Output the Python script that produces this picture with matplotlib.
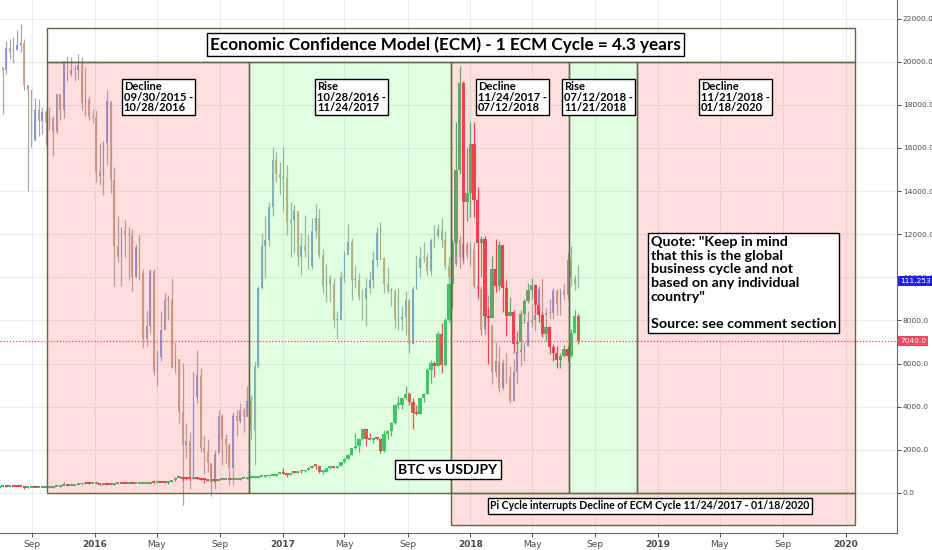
import matplotlib
matplotlib.use("Agg")
import matplotlib.pyplot as plt
import matplotlib.dates as mdates
import matplotlib.transforms as mtransforms
from matplotlib.patches import Rectangle
import pandas as pd
import numpy as np

# weekly bars, week starting Monday 2015-06-29
first_week = "2015-06-29"

btc_close = [
    271, 310, 275, 292, 281, 265, 258, 228, 229, 240, 230, 231, 232, 238, 247, 262, 285, 325, 373, 320,
    323, 371, 395, 435, 442, 422, 431,
    448, 387, 402, 378, 376, 407, 438, 433, 405, 414, 411, 416, 420, 422, 428, 460, 448, 458, 455, 444,
    526, 586, 685, 764, 660, 658, 649, 675, 655, 625, 592, 570, 581, 572, 606, 609, 609, 605, 612, 617,
    641, 657, 698, 703, 705, 730, 733, 765, 780, 790, 891, 911,
    903, 825, 925, 915, 1027, 999, 1057, 1180, 1267, 1237, 965, 966, 1145, 1194, 1181, 1250, 1420, 1590,
    1780, 2080, 2190, 2520, 2960, 2520, 2480, 2560, 2510, 1930, 2750, 2870, 3230, 4070, 4090, 4390, 4580,
    4230, 3690, 3680, 4400, 4600, 5700, 6010, 5900, 7380, 5950, 8040, 9700, 11600, 15000, 19000, 13500,
    13900,
    16200, 13600, 11600, 11800, 8200, 8100, 10400, 9600, 11500, 9500, 8200, 8400, 6900, 7000, 8300, 8900,
    9400, 9650, 8700, 8250, 7350, 7700, 6750, 6500, 6150, 6350, 6700, 6350, 7400, 8200, 7040,
]
btc_high = [
    275, 315, 312, 300, 298, 285, 270, 262, 235, 242, 245, 235, 236, 240, 248, 265, 287, 335, 495, 390,
    338, 375, 400, 465, 470, 465, 440,
    462, 450, 410, 405, 390, 408, 445, 440, 440, 420, 420, 420, 425, 425, 430, 465, 470, 465, 462, 458,
    530, 590, 720, 780, 760, 705, 680, 680, 680, 660, 625, 600, 585, 585, 610, 625, 612, 612, 615, 620,
    645, 660, 705, 740, 720, 750, 745, 770, 785, 795, 900, 980,
    1150, 910, 930, 925, 1030, 1060, 1065, 1200, 1290, 1330, 1250, 1080, 1150, 1200, 1200, 1260, 1440, 1620,
    1820, 2100, 2760, 2540, 2980, 3000, 2800, 2600, 2650, 2550, 2900, 2900, 3300, 4150, 4500, 4400, 4980,
    4700, 4400, 4100, 4450, 4620, 5800, 6150, 6100, 7500, 7900, 8100, 9750, 11800, 17200, 19800, 19100,
    16000,
    17200, 17200, 14200, 11900, 11900, 8600, 11000, 11800, 11700, 11500, 9900, 9100, 8500, 7500, 8500, 9000,
    9750, 9950, 9700, 8750, 8400, 7750, 7750, 6900, 6800, 6500, 6850, 6800, 7600, 8500, 8280,
]
btc_low = [
    250, 263, 270, 272, 278, 260, 255, 200, 200, 225, 228, 225, 226, 234, 236, 245, 262, 283, 320, 305,
    315, 320, 350, 390, 420, 415, 415,
    420, 370, 365, 370, 365, 370, 405, 405, 400, 395, 405, 408, 410, 415, 420, 428, 440, 442, 445, 435,
    440, 525, 570, 680, 550, 620, 600, 640, 650, 600, 480, 570, 565, 565, 570, 600, 600, 595, 600, 605,
    615, 635, 655, 680, 700, 705, 728, 730, 760, 775, 790, 890,
    880, 750, 830, 880, 910, 940, 990, 1050, 1170, 1100, 950, 890, 960, 1120, 1160, 1180, 1245, 1400,
    1580, 1750, 2050, 1900, 2480, 2200, 2450, 2300, 2480, 1850, 1900, 2500, 2650, 3200, 3900, 3900, 4300,
    4100, 2980, 3600, 3650, 4200, 4600, 5100, 5400, 5900, 5550, 5900, 7950, 8600, 11000, 14800, 10800,
    12600,
    12800, 12800, 9100, 10000, 7800, 6000, 8100, 9300, 9400, 8400, 7300, 8200, 6500, 6600, 6700, 7900,
    8800, 9000, 8350, 7950, 7250, 7050, 6450, 6100, 5800, 5800, 6300, 6100, 6300, 7400, 6900,
]
btc_first_open = 250

jpy_close = [
    123.0, 122.8, 124.0, 123.8, 123.9, 124.2, 124.3, 122.0, 121.7, 119.0, 120.6, 120.0, 120.5, 119.9,
    120.2, 119.4, 121.5, 120.6, 123.2, 122.6, 122.8, 122.8, 123.1, 121.0, 121.2, 120.3, 120.2,
    117.2, 117.0, 118.8, 121.1, 116.8, 113.2, 112.6, 114.0, 113.8, 113.8, 111.5, 113.1, 111.7, 108.1,
    108.8, 111.8, 106.3, 107.1, 108.6, 110.2, 110.3, 106.5, 107.0, 104.1, 102.3, 102.5, 100.5, 104.9,
    106.1, 102.1, 101.9, 101.3, 100.2, 101.8, 103.9, 102.6, 102.3, 101.0, 103.9, 103.6, 104.2, 103.8,
    104.7, 103.1, 106.6, 110.9, 113.2, 113.5, 115.3, 117.9, 117.1, 116.9,
    116.9, 114.5, 114.6, 115.1, 112.6, 113.2, 112.9, 112.1, 114.0, 114.7, 112.7, 111.0, 111.4, 111.1,
    109.1, 109.1, 111.5, 112.7, 113.4, 111.3, 111.3, 110.4, 110.3, 110.9, 111.3, 112.4, 113.9, 112.5,
    111.1, 110.7, 110.7, 109.2, 109.2, 109.3, 110.2, 107.8, 110.8, 112.0, 112.5, 112.6, 111.8, 113.5,
    113.7, 114.1, 113.5, 112.1, 111.5, 112.2, 113.5, 112.6, 113.3, 112.7,
    113.0, 111.0, 110.8, 108.6, 110.2, 108.8, 106.3, 106.9, 105.4, 106.8, 106.0, 104.7, 106.3, 107.4,
    107.4, 107.7, 109.0, 109.1, 109.4, 110.8, 109.4, 109.5, 109.5, 110.7, 110.0, 110.7, 110.5, 112.4,
    111.4, 111.05, 111.253,
]
jpy_high = [
    123.7, 123.0, 124.4, 124.5, 124.6, 125.0, 125.3, 124.5, 122.0, 121.7, 121.3, 121.2, 120.8, 120.6,
    120.8, 120.3, 121.5, 121.5, 123.3, 123.6, 123.5, 123.1, 123.7, 123.5, 123.0, 121.4, 120.7,
    120.6, 118.8, 118.9, 121.7, 121.1, 117.5, 114.8, 114.2, 114.6, 114.2, 114.1, 113.3, 113.8, 111.9,
    109.7, 111.9, 111.9, 107.5, 109.6, 110.6, 110.5, 111.4, 107.9, 107.0, 106.8, 103.5, 103.0, 106.3,
    107.5, 106.5, 102.8, 102.6, 101.3, 102.0, 104.2, 104.0, 102.9, 102.4, 104.1, 104.2, 104.6, 104.3,
    105.5, 105.0, 106.9, 111.0, 113.9, 114.8, 115.6, 118.6, 118.3, 117.8,
    118.6, 117.6, 115.6, 115.4, 115.0, 113.9, 114.9, 113.8, 114.7, 115.5, 115.2, 113.0, 112.2, 111.6,
    111.4, 109.6, 111.8, 112.9, 114.4, 113.6, 112.1, 111.7, 110.8, 111.4, 111.8, 112.9, 114.2, 114.5,
    112.6, 112.0, 110.9, 110.8, 110.9, 109.9, 110.7, 110.3, 111.0, 112.7, 113.2, 113.4, 112.8, 113.6,
    114.3, 114.4, 114.7, 114.0, 112.6, 113.0, 113.6, 113.7, 113.6, 113.4,
    113.4, 113.4, 111.5, 111.0, 110.4, 110.5, 108.9, 107.9, 107.7, 107.0, 107.3, 106.6, 107.0, 107.5,
    107.8, 107.9, 109.6, 110.0, 109.8, 111.0, 111.4, 109.8, 110.3, 110.9, 110.8, 110.9, 111.1, 112.8,
    113.2, 111.6, 112.15,
]
jpy_low = [
    122.1, 120.4, 122.6, 123.4, 123.2, 123.9, 123.8, 121.7, 116.2, 118.6, 118.9, 119.2, 119.3, 118.7,
    119.5, 118.1, 119.3, 120.1, 120.2, 122.2, 122.5, 122.2, 122.3, 120.6, 120.3, 120.1, 119.9,
    116.7, 116.5, 115.97, 117.6, 116.1, 110.98, 112.3, 111.0, 112.6, 111.3, 110.7, 111.4, 111.3, 107.6,
    107.7, 108.4, 106.1, 105.5, 106.9, 108.6, 109.1, 106.5, 106.2, 103.5, 99.0, 101.6, 99.9, 100.6,
    104.6, 101.9, 100.7, 100.8, 99.5, 99.9, 101.9, 101.2, 101.3, 100.1, 100.1, 102.8, 103.5, 103.0,
    103.9, 102.6, 101.2, 106.5, 110.8, 111.4, 113.2, 114.8, 116.7, 116.0,
    115.1, 113.8, 112.6, 112.8, 112.1, 111.6, 112.6, 111.9, 111.9, 113.6, 112.5, 110.6, 110.1, 110.1,
    108.7, 108.1, 109.6, 111.2, 113.0, 110.2, 110.9, 110.2, 109.1, 108.8, 110.6, 110.9, 112.1, 112.4,
    110.6, 110.6, 109.9, 108.7, 108.6, 108.6, 108.3, 107.3, 107.8, 110.8, 111.5, 112.3, 111.6, 111.6,
    113.1, 113.6, 113.1, 111.9, 111.1, 111.1, 112.1, 112.0, 112.2, 112.5,
    112.1, 110.9, 110.2, 108.3, 108.3, 108.1, 105.6, 106.0, 105.2, 105.3, 105.6, 104.6, 104.7, 105.7,
    106.6, 106.9, 107.7, 108.7, 108.6, 109.3, 108.9, 108.1, 109.2, 109.2, 109.4, 109.4, 110.3, 110.3,
    111.0, 110.75, 110.9,
]
jpy_first_open = 122.3

# ECM cycle phases
phase_kind = ["Decline", "Rise", "Decline", "Rise", "Decline"]
phase_start = ["2015-09-30", "2016-10-28", "2017-11-24", "2018-07-12", "2018-11-21"]
phase_end = ["2016-10-28", "2017-11-24", "2018-07-12", "2018-11-21", "2020-01-18"]
pi_start, pi_end = "2017-11-24", "2020-01-18"

last_btc = 7040.0
last_jpy = 111.253

tick_dates = ["2015-09-01", "2016-01-01", "2016-05-01", "2016-09-01", "2017-01-01", "2017-05-01",
              "2017-09-01", "2018-01-01", "2018-05-01", "2018-09-01", "2019-01-01", "2019-05-01",
              "2019-09-01", "2020-01-01"]
tick_labels = ["Sep", "2016", "May", "Sep", "2017", "May", "Sep", "2018", "May", "Sep", "2019", "May",
               "Sep", "2020"]
price_ticks = list(range(0, 22001, 2000))

quote_text = ('Quote: "Keep in mind\nthat this is the global\nbusiness cycle and not\n'
              'based on any individual\ncountry"\n\nSource: see comment section')

# ---------------------------------------------------------------
weeks = pd.date_range(first_week, periods=len(btc_close), freq="7D")
btc_open = [btc_first_open] + btc_close[:-1]
jpy_open = [jpy_first_open] + jpy_close[:-1]

fig = plt.figure(figsize=(9.32, 5.5), dpi=100)
ax = fig.add_axes([0.0, 17 / 550, 896.7 / 932, 533 / 550])
ax2 = ax.twinx()
ax2.set_ylim(97.47, 126.64)
ax2.set_yticks([])
for s in ax2.spines.values():
    s.set_visible(False)

ax.set_ylim(-1855, 22861)
ax.set_xlim(pd.Timestamp("2015-07-01"), pd.Timestamp("2020-04-09"))
ax.yaxis.tick_right()

ANN = "Lato"
olive = "#5f6a45"

# grid
for d in tick_dates:
    ax.axvline(pd.Timestamp(d), color="#ebebeb", lw=0.8, zorder=0)
for v in price_ticks:
    ax.axhline(v, color="#ebebeb", lw=0.8, zorder=0)

# USDJPY bars (own hidden scale)
jo, jc = np.array(jpy_open), np.array(jpy_close)
jup = jc >= jo
ax.vlines(weeks, jpy_low, jpy_high, color="#8c8c8c", lw=0.9, alpha=0.75, zorder=1,
          transform=ax2.transData)
ax.bar(weeks, np.maximum(np.abs(jc - jo), 0.06), bottom=np.minimum(jo, jc), width=3.2,
       color=np.where(jup, "#7c93dc", "#c9a084"), alpha=0.9, zorder=1.2,
       transform=ax2.transData)

# BTC candles
bo, bc = np.array(btc_open), np.array(btc_close)
bup = bc >= bo
bcol = np.where(bup, "#3fba6c", "#e8404f")
ax.vlines(weeks, btc_low, btc_high, color=bcol, lw=0.9, zorder=2)
ax.bar(weeks, np.maximum(np.abs(bc - bo), 90), bottom=np.minimum(bo, bc), width=6.4,
       color=bcol, zorder=2.2)

# cycle rectangles (drawn over the price, semi transparent)
for kind, s, e in zip(phase_kind, phase_start, phase_end):
    x0 = mdates.date2num(pd.Timestamp(s))
    x1 = mdates.date2num(pd.Timestamp(e))
    fc = (1.0, 0.33, 0.33, 0.19) if kind == "Decline" else (0.3, 1.0, 0.3, 0.17)
    ax.add_patch(Rectangle((x0, 0), x1 - x0, 20000, fc=fc, ec=olive, lw=1, zorder=3))

x0 = mdates.date2num(pd.Timestamp(phase_start[0]))
x1 = mdates.date2num(pd.Timestamp(phase_end[-1]))
ax.add_patch(Rectangle((x0, 20000), x1 - x0, 1563, fc="none", ec=olive, lw=1, zorder=3))
x0 = mdates.date2num(pd.Timestamp(pi_start))
x1 = mdates.date2num(pd.Timestamp(pi_end))
ax.add_patch(Rectangle((x0, -1484), x1 - x0, 1484, fc=(1.0, 0.33, 0.33, 0.19), ec=olive, lw=1,
                       zorder=3))

# last price line
ax.axhline(last_btc, color="#e84a5f", lw=0.9, ls=(0, (1, 1.5)), zorder=3.5)

# annotations
box = dict(boxstyle="square,pad=0.25", fc="white", ec="black", lw=1)
ax.text(0.4968, 0.9165, "Economic Confidence Model (ECM) - 1 ECM Cycle = 4.3 years",
        transform=ax.transAxes, ha="center", va="center", fontsize=12.3, family=ANN,
        weight="bold", bbox=dict(boxstyle="square,pad=0.2", fc="white", ec="black", lw=1),
        zorder=6)

label_x = [0.138, 0.3535, 0.533, 0.629, 0.782]
for kind, s, e, lx in zip(phase_kind, phase_start, phase_end, label_x):
    t = f"{kind}\n{pd.Timestamp(s):%m/%d/%Y} -\n{pd.Timestamp(e):%m/%d/%Y}"
    ax.text(lx, 0.848, t, transform=ax.transAxes, ha="left", va="top", fontsize=8,
            family=ANN, weight="bold", linespacing=0.95,
            bbox=dict(boxstyle="square,pad=0.2", fc="white", ec="black", lw=1), zorder=6)

ax.text(0.7255, 0.557, quote_text, transform=ax.transAxes, ha="left", va="top", fontsize=10.3,
        family=ANN, weight="bold", linespacing=1.16,
        bbox=dict(boxstyle="square,pad=0.2", fc="white", ec="black", lw=1), zorder=6)

ax.text(0.4996, 0.119, "BTC vs USDJPY", transform=ax.transAxes, ha="center", va="center",
        fontsize=10, family=ANN, weight="bold", bbox=box, zorder=6)

ax.text(0.7249, 0.0507, f"Pi Cycle interrupts Decline of ECM Cycle {pd.Timestamp(pi_start):%m/%d/%Y}"
        f" - {pd.Timestamp(pi_end):%m/%d/%Y}", transform=ax.transAxes, ha="center", va="center",
        fontsize=7.6, family=ANN, weight="bold",
        bbox=dict(boxstyle="square,pad=0.2", fc="white", ec="black", lw=1), zorder=6)

# price labels on the scale
tr_btc = mtransforms.blended_transform_factory(ax.transAxes, ax.transData)
tr_jpy = mtransforms.blended_transform_factory(ax.transAxes, ax2.transData)
ax.text(1.004, last_btc, f"{last_btc:.1f}", transform=tr_btc, ha="left", va="center",
        fontsize=5.4, color="white", clip_on=False, zorder=7,
        bbox=dict(boxstyle="square,pad=0.25", fc="#e84a5f", ec="none"))
ax.text(1.004, last_jpy, f"{last_jpy:.3f}", transform=tr_jpy, ha="left", va="center",
        fontsize=5.4, color="white", clip_on=False, zorder=7,
        bbox=dict(boxstyle="square,pad=0.25", fc="#2020f5", ec="none"))

# axes styling
ax.set_yticks(price_ticks)
ax.set_yticklabels([f"{v:.1f}" for v in price_ticks])
ax.set_xticks([pd.Timestamp(d) for d in tick_dates])
ax.set_xticklabels(tick_labels)
for lab in ax.get_xticklabels():
    if lab.get_text().isdigit():
        lab.set_fontweight("bold")
ax.tick_params(axis="both", colors="#4a4a4a", length=3, width=0.7)
ax.tick_params(axis="y", labelsize=5.4, pad=1.5)
ax.tick_params(axis="x", labelsize=6.5, pad=2)
for side in ["left", "top"]:
    ax.spines[side].set_visible(False)
for side in ["right", "bottom"]:
    ax.spines[side].set_color("#6a6a6a")
    ax.spines[side].set_linewidth(0.8)

fig.savefig("out.png", dpi=100)
